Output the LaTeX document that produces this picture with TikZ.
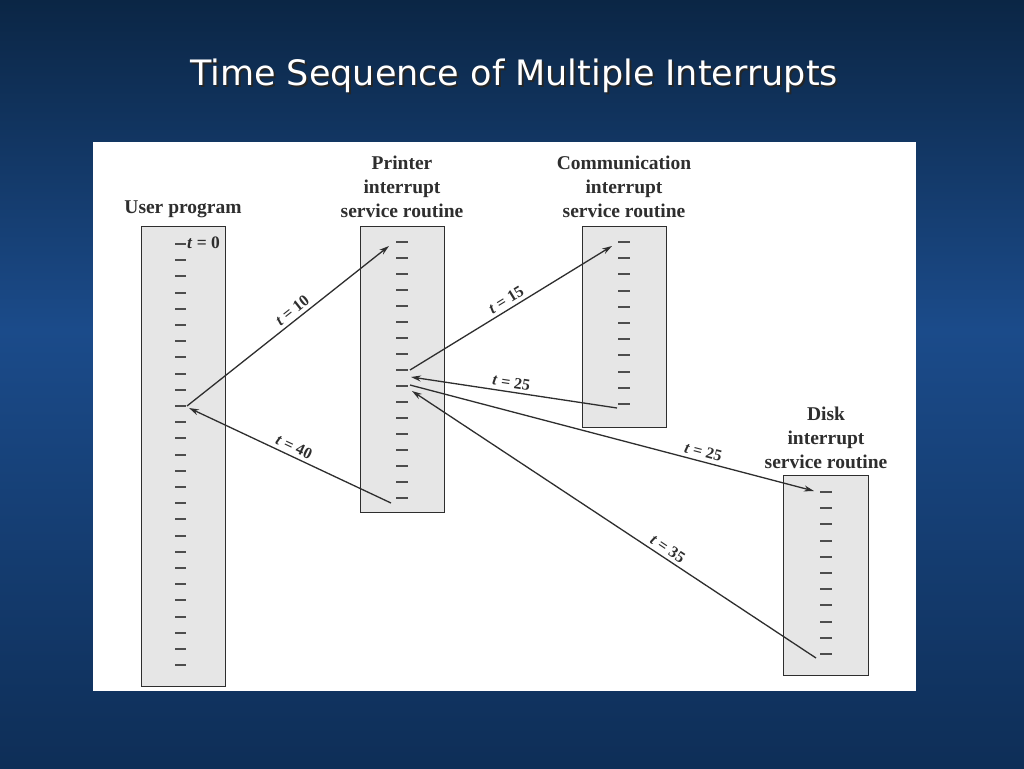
\documentclass[tikz,border=0pt]{standalone}
\usepackage{fontspec}
\setmainfont{Liberation Serif}
\newfontfamily\titlefont{DejaVu Sans}
\usetikzlibrary{arrows.meta}
\definecolor{bgtop}{HTML}{0B2645}
\definecolor{bgmid}{HTML}{1B4B8A}
\definecolor{bgbot}{HTML}{0E2E57}
\definecolor{boxfill}{HTML}{E6E6E6}
\definecolor{ink}{HTML}{2E2E2E}
\tikzset{
  box/.style={draw=ink, line width=1.4pt, fill=boxfill, anchor=north west, inner sep=0pt},
  lab/.style={font=\bfseries\fontsize{19.5}{24}\selectfont, align=center, text=ink, inner sep=0pt},
  tlab/.style={font=\bfseries\fontsize{16}{18}\selectfont, text=ink, inner sep=3.5pt},
  tick/.style={draw=ink!85, line width=2pt},
  arr/.style={draw=ink, line width=1.3pt, -{Stealth[length=10pt,width=6pt]}},
  titlestyle/.style={font=\titlefont\fontsize{35}{42}\selectfont, inner sep=0pt}
}
\begin{document}
\begin{tikzpicture}[x=1pt,y=-1pt]
\useasboundingbox (0,0) rectangle (1024,768);
\shade[top color=bgtop, bottom color=bgmid] (0,0) rectangle (1024,330);
\shade[top color=bgmid, bottom color=bgbot] (0,330) rectangle (1024,768);
% title
\node[titlestyle, text=black!85] (titleshadow) at (516,78) {Time Sequence of Multiple Interrupts};
\node[titlestyle, text=white] (title) at (514,76) {Time Sequence of Multiple Interrupts};
% white panel
\fill[white] (93,142) rectangle (916,691);
% boxes
\node[box, minimum width=84pt, minimum height=460pt] (user) at (141,226) {};
\node[box, minimum width=84pt, minimum height=286pt] (printer) at (360,226) {};
\node[box, minimum width=84pt, minimum height=201pt] (comm) at (582,226) {};
\node[box, minimum width=85pt, minimum height=200pt] (disk) at (783,475) {};
% box labels
\node[lab, anchor=south] (userlab) at (183,218) {User program};
\node[lab, anchor=south] (printerlab) at (402,218) {Printer\\interrupt\\service routine};
\node[lab, anchor=south] (commlab) at (624,218) {Communication\\interrupt\\service routine};
\node[lab, anchor=south] (disklab) at (826,469) {Disk\\interrupt\\service routine};
% ticks
\foreach \i in {0,...,26} \draw[tick] (175,{round(244+16.2*\i)}) -- ++(11,0);
\foreach \i in {0,...,16} \draw[tick] (396,{242+16*\i}) -- ++(12,0);
\foreach \i in {0,...,10} \draw[tick] (618,{round(242+16.2*\i)}) -- ++(12,0);
\foreach \i in {0,...,10} \draw[tick] (820,{round(492+16.2*\i)}) -- ++(12,0);
\node[tlab, font=\bfseries\fontsize{17.5}{20}\selectfont, anchor=west, inner sep=0pt] (t0) at (187,243) {\textit{t} = 0};
% connector end points
\coordinate (u10) at (187,406);
\coordinate (u10b) at (189,408);
\coordinate (p0in) at (389,246);
\coordinate (p8) at (410,370);
\coordinate (p8b) at (411,377);
\coordinate (p9) at (410,385);
\coordinate (p9b) at (412,391);
\coordinate (p16) at (391,503);
\coordinate (c0in) at (612,246);
\coordinate (c10) at (617,408);
\coordinate (d0in) at (814,491);
\coordinate (d10) at (816,658);
% connectors
\draw[arr] (u10) -- node[tlab, sloped, above, pos=0.55] (l10) {\textit{t} = 10} (p0in);
\draw[arr] (p8) -- node[tlab, sloped, above, pos=0.5] (l15) {\textit{t} = 15} (c0in);
\draw[arr] (c10) -- node[tlab, sloped, above, pos=0.52] (l25a) {\textit{t} = 25} (p8b);
\draw[arr] (p9) -- node[tlab, sloped, above, pos=0.72] (l25b) {\textit{t} = 25} (d0in);
\draw[arr] (d10) -- node[tlab, sloped, above, pos=0.38] (l35) {\textit{t} = 35} (p9b);
\draw[arr] (p16) -- node[tlab, sloped, above, pos=0.5] (l40) {\textit{t} = 40} (u10b);
\end{tikzpicture}
\end{document}
